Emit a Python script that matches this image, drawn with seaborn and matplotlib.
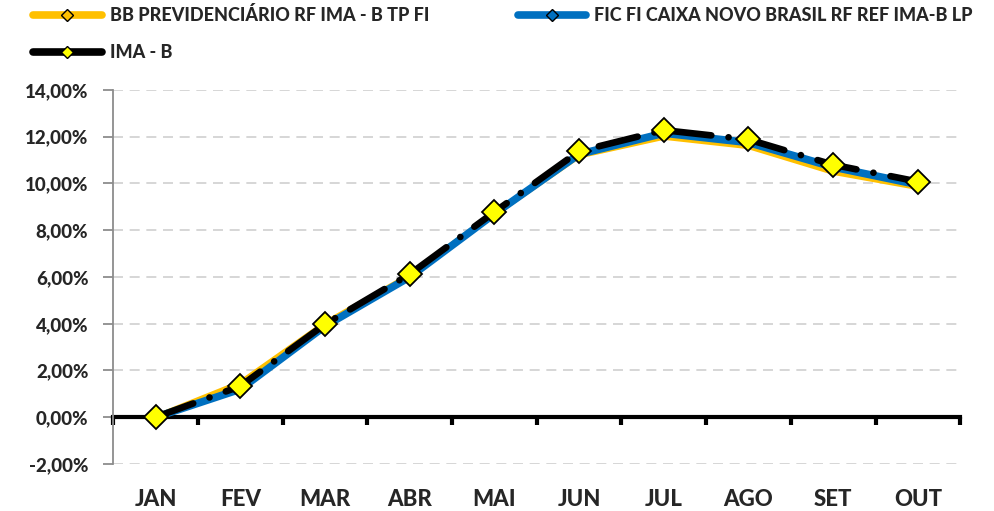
import pandas as pd
import matplotlib
matplotlib.use("Agg")
import matplotlib.pyplot as plt
import seaborn as sns
from matplotlib.lines import Line2D
from matplotlib.ticker import FuncFormatter, MultipleLocator

# ------------------------ dados ------------------------
meses = ["JAN", "FEV", "MAR", "ABR", "MAI", "JUN", "JUL", "AGO", "SET", "OUT"]
bb_prev = [0.00, 1.45, 4.00, 6.05, 8.70, 11.20, 12.00, 11.60, 10.50, 9.85]
caixa_novo = [0.00, 1.20, 3.90, 6.00, 8.70, 11.25, 12.15, 11.75, 10.70, 9.95]
ima_b = [0.00, 1.33, 3.98, 6.12, 8.78, 11.38, 12.28, 11.88, 10.80, 10.08]

nomes = ["BB PREVIDENCIÁRIO RF IMA - B TP FI",
         "FIC FI CAIXA NOVO BRASIL RF REF IMA-B LP",
         "IMA - B"]

df = pd.DataFrame({"mes": meses, "bb": bb_prev, "caixa": caixa_novo, "ima": ima_b})
df["pos"] = range(len(meses))

# ------------------------ estilo ------------------------
sns.set_theme(style="white")
plt.rcParams["font.family"] = ["Lato", "DejaVu Sans"]
PESO = 900

fig = plt.figure(figsize=(9.94, 5.11), dpi=100)
ax = fig.add_axes([0.114, 0.092, 0.852, 0.732])

sns.lineplot(data=df, x="pos", y="bb", ax=ax, color="#FFC000", lw=4.5,
             solid_capstyle="round", zorder=3)
sns.lineplot(data=df, x="pos", y="caixa", ax=ax, color="#0070C0", lw=5.5,
             solid_capstyle="round", zorder=4)
sns.lineplot(data=df, x="pos", y="ima", ax=ax, color="black", lw=4.8,
             linestyle=(0, (6, 2.6, 0.01, 2.6)), dash_capstyle="round",
             marker="D", markersize=12, markerfacecolor="#FFFF00",
             markeredgecolor="black", markeredgewidth=1.3, zorder=5)

# ------------------------ eixos ------------------------
ax.set_xlim(-0.5, len(meses) - 0.5)
ax.set_ylim(-2, 14)
ax.yaxis.set_major_locator(MultipleLocator(2))
ax.yaxis.set_major_formatter(FuncFormatter(lambda v, p: f"{v:.2f}%".replace(".", ",")))
ax.grid(axis="y", color="#D0D0D0", linestyle=(0, (6, 4)), lw=1.2)
ax.set_axisbelow(True)

for s in ["top", "right"]:
    ax.spines[s].set_visible(False)
ax.spines["left"].set_color("#8C8C8C")
ax.spines["left"].set_linewidth(1.3)
ax.spines["bottom"].set_position(("data", 0))
ax.spines["bottom"].set_color("black")
ax.spines["bottom"].set_linewidth(3)
ax.spines["bottom"].set_zorder(2)

ax.set_xticks(df["pos"])
ax.set_xticklabels(meses)
ax.set_xticks([i - 0.5 for i in range(len(meses) + 1)], minor=True)
ax.tick_params(axis="x", which="major", length=0, pad=52, labelsize=16)
ax.tick_params(axis="x", which="minor", length=6, width=3, color="black",
               direction="out", bottom=True)
ax.tick_params(axis="y", length=7, width=1.3, color="#8C8C8C", left=True,
               labelsize=13.5, pad=11)
for lab in ax.get_xticklabels() + ax.get_yticklabels():
    lab.set_fontweight(PESO)
ax.set_xlabel("")
ax.set_ylabel("")

# ------------------------ legenda ------------------------
h_bb = Line2D([], [], color="#FFC000", lw=5.5, solid_capstyle="round", marker="D",
              markersize=6, markerfacecolor="#FFC000", markeredgecolor="black")
h_cx = Line2D([], [], color="#0070C0", lw=5.5, solid_capstyle="round", marker="D",
              markersize=6, markerfacecolor="#0070C0", markeredgecolor="black")
h_ima = Line2D([], [], color="black", lw=5.5, solid_capstyle="round", marker="D",
               markersize=6, markerfacecolor="#FFFF00", markeredgecolor="black")
fig.legend([h_bb, h_ima, h_cx], [nomes[0], nomes[2], nomes[1]], ncol=2,
           loc="upper left", bbox_to_anchor=(0.017, 1.02), frameon=False,
           handlelength=3.8, handletextpad=0.45, columnspacing=4.9, labelspacing=1.1,
           prop={"weight": PESO, "size": 13})

fig.savefig("out.png", dpi=100)
